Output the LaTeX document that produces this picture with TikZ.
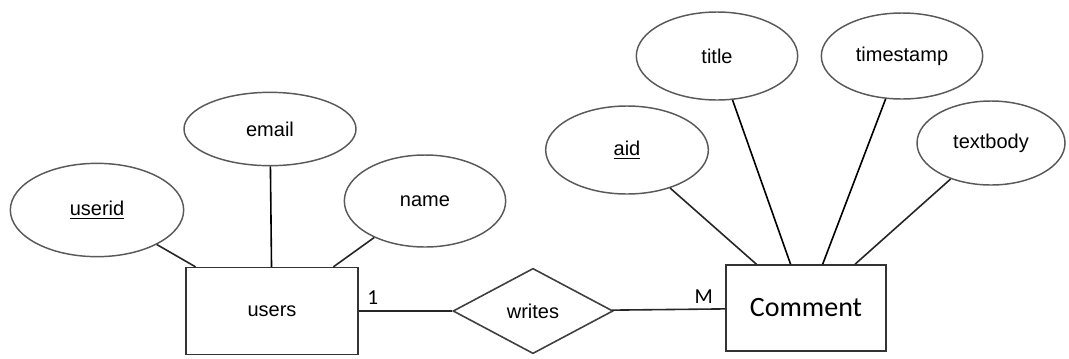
\documentclass[tikz,border=0pt]{standalone}
\usepackage{fontspec}
\setmainfont{Liberation Sans}
\newfontfamily\calfont{Carlito}
\usetikzlibrary{shapes.geometric}
\tikzset{
	attrib/.style={draw=black!65, line width=1.1pt, ellipse, inner sep=0pt, font=\fontsize{15}{18}\selectfont},
	entity/.style={draw=black!80, line width=1.2pt, rectangle, inner sep=0pt},
	relation/.style={draw=black!75, line width=1.2pt, diamond, inner sep=0pt, aspect=1.88, font=\fontsize{15}{18}\selectfont},
	link/.style={line width=1.2pt, draw=black!85},
	card/.style={font=\calfont\fontsize{16}{18}\selectfont, inner sep=1pt}
}

\begin{document}
\begin{tikzpicture}[x=0.75pt, y=-0.75pt]
			%%%%% START %%%%%
			\useasboundingbox (0, 0) rectangle (1069, 358);
			
			% entities and relation
			\node[entity, minimum width=129pt, minimum height=65pt, font=\fontsize{15}{18}\selectfont] (users) at (272, 311) {users};
			\node[relation, minimum width=120pt, minimum height=64pt] (writes) at (533, 311) {writes};
			\node[entity, minimum width=120pt, minimum height=64.5pt, font=\calfont\fontsize{21}{24}\selectfont] (comment) at (806, 308) {Comment};
			
			% attributes of users
			\node[attrib, minimum width=130pt, minimum height=70pt] (userid) at (97, 210) {\underline{userid}};
			\node[attrib, minimum width=129pt, minimum height=55pt] (email) at (270, 129) {email};
			\node[attrib, minimum width=121pt, minimum height=69pt] (name) at (425, 201) {name};
			
			% attributes of Comment
			\node[attrib, minimum width=122pt, minimum height=66pt] (aid) at (627, 150) {\underline{aid}};
			\node[attrib, minimum width=121pt, minimum height=66pt] (title) at (717, 56) {title};
			\node[attrib, minimum width=121pt, minimum height=64.5pt] (timestamp) at (902, 56) {timestamp};
			\node[attrib, minimum width=111pt, minimum height=63pt] (textbody) at (991, 143) {textbody};
			
			% connectors
			\draw[link] (userid) -- (users);
			\draw[link, draw=black] (email) -- (users);
			\draw[link] (name) -- (users);
			\draw[link] (aid) -- (comment);
			\draw[link, draw=black] (title) -- (comment);
			\draw[link, draw=black] (timestamp) -- (comment);
			\draw[link] (textbody) -- (comment);
			
			\draw[link] (users) -- node[card, pos=0.15, above=3pt] (one) {1} (writes);
			\draw[link] (writes) -- node[card, pos=0.81, above=3pt] (many) {M} (comment);
			
			%%%%% END %%%%%
		\end{tikzpicture}
\end{document}
